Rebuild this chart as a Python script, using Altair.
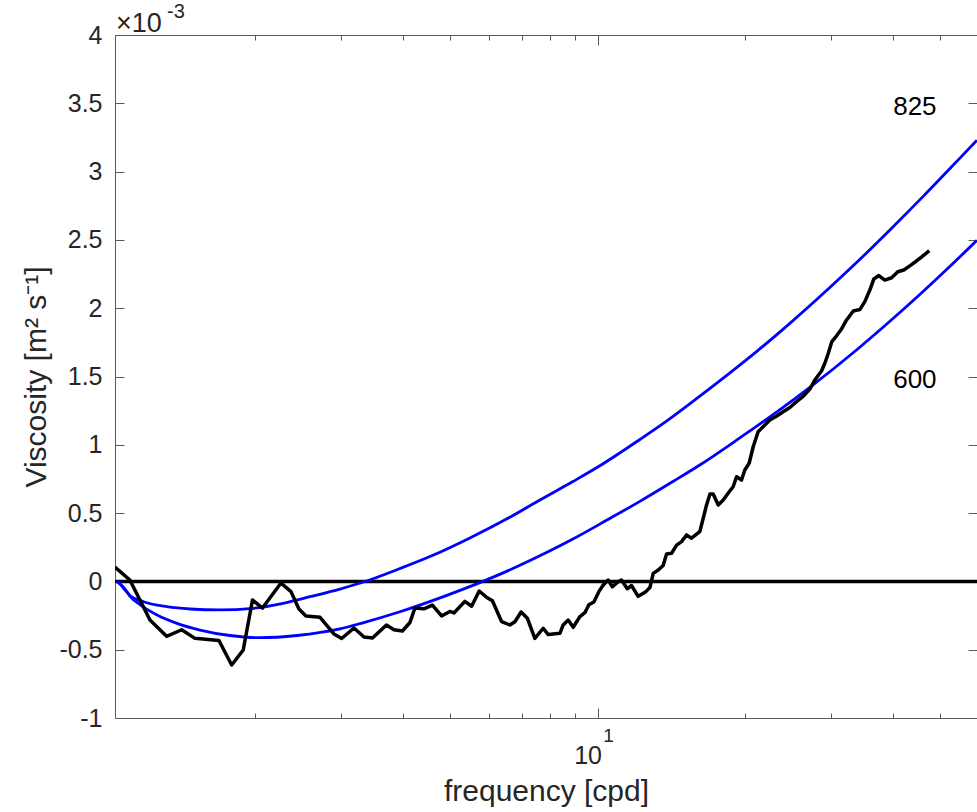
import altair as alt
import pandas as pd

# ---- data (viscosity in units of 1e-3 m^2 s^-1) ----
BLACK_F = [1.035, 1.110, 1.220, 1.319, 1.416, 1.507, 1.687, 1.791, 1.891, 1.975,
           2.070, 2.258, 2.367, 2.457, 2.539, 2.713, 2.896, 3.003, 3.183, 3.336,
           3.471, 3.707, 3.840, 3.996, 4.140, 4.238, 4.421, 4.601, 4.804, 4.995,
           5.090, 5.360, 5.532, 5.733, 5.944, 6.100, 6.371, 6.622, 6.780, 6.981,
           7.190, 7.447, 7.745, 7.929, 8.377, 8.507, 8.710, 8.917, 9.203, 9.421,
           9.599, 9.827, 10.06, 10.27, 10.51, 10.72, 11.02, 11.19, 11.50, 11.73,
           12.10, 12.55, 12.79, 12.99, 13.30, 13.61, 13.83, 14.16, 14.50, 14.84,
           15.19, 15.55, 16.17, 16.43, 16.69, 16.96, 17.22, 17.63, 18.05, 18.47,
           18.91, 19.22, 19.67, 19.98, 20.39, 20.78, 21.27, 21.95, 22.47, 23.22,
           23.92, 24.69, 25.47, 26.28, 27.12, 27.76, 28.65, 29.10, 29.58, 30.08,
           30.75, 31.48, 32.23, 33.27, 34.30, 35.12, 35.96, 36.64, 37.51, 38.58,
           39.83, 41.01, 42.18, 43.38, 44.63, 45.69, 46.67, 47.55]
BLACK_V = [0.104, 0.010, -0.283, -0.402, -0.354, -0.417, -0.433, -0.612, -0.502, -0.136,
           -0.195, -0.012, -0.075, -0.202, -0.253, -0.263, -0.385, -0.418, -0.341, -0.407,
           -0.414, -0.319, -0.354, -0.363, -0.301, -0.195, -0.201, -0.173, -0.253, -0.220,
           -0.231, -0.146, -0.182, -0.070, -0.118, -0.142, -0.295, -0.319, -0.295, -0.224,
           -0.270, -0.417, -0.343, -0.389, -0.380, -0.319, -0.283, -0.336, -0.258, -0.229,
           -0.171, -0.151, -0.075, -0.026, 0.010, -0.039, -0.002, 0.010, -0.054, -0.030,
           -0.109, -0.075, -0.045, 0.059, 0.083, 0.116, 0.201, 0.206, 0.266, 0.291,
           0.340, 0.316, 0.364, 0.462, 0.559, 0.640, 0.640, 0.559, 0.596, 0.645,
           0.693, 0.766, 0.742, 0.816, 0.865, 0.986, 1.096, 1.145, 1.182, 1.211,
           1.242, 1.273, 1.316, 1.354, 1.408, 1.474, 1.540, 1.597, 1.670, 1.756,
           1.798, 1.848, 1.914, 1.980, 1.990, 2.048, 2.133, 2.214, 2.239, 2.206,
           2.223, 2.267, 2.280, 2.310, 2.342, 2.371, 2.397, 2.422]

UPPER_F = [1.045, 1.060, 1.085, 1.110, 1.180, 1.321, 1.472, 1.695, 1.980, 2.279,
           2.587, 2.979, 3.351, 3.950, 4.612, 5.488, 6.532, 7.624, 8.905, 10.01,
           12.20, 13.85, 16.17, 18.88, 21.14, 24.69, 28.96, 33.82, 39.51, 46.36,
           54.12, 59.48]
UPPER_V = [0.0, -0.019, -0.063, -0.103, -0.147, -0.185, -0.202, -0.209, -0.197, -0.160,
           -0.112, -0.056, -0.001, 0.094, 0.191, 0.318, 0.458, 0.596, 0.731, 0.837,
           1.039, 1.175, 1.356, 1.543, 1.684, 1.889, 2.111, 2.336, 2.573, 2.824,
           3.075, 3.230]

LOWER_F = [1.045, 1.060, 1.085, 1.110, 1.180, 1.261, 1.385, 1.543, 1.777, 2.046,
           2.434, 2.979, 3.319, 3.950, 4.925, 5.834, 6.717, 7.733, 8.905, 10.45,
           12.20, 14.25, 16.17, 19.51, 21.14, 24.69, 27.12, 33.82, 39.51, 46.36,
           52.36, 59.48]
LOWER_V = [0.0, -0.019, -0.056, -0.107, -0.185, -0.246, -0.307, -0.356, -0.396, -0.412,
           -0.396, -0.348, -0.303, -0.222, -0.102, 0.000, 0.094, 0.198, 0.310, 0.449,
           0.586, 0.731, 0.852, 1.050, 1.137, 1.311, 1.421, 1.696, 1.904, 2.128,
           2.305, 2.497]

CURVE_LABELS = ["825", "600"]
CURVE_LABEL_F = [44.43, 44.43]
CURVE_LABEL_V = [3.414, 1.414]

ZERO_V = [0.0]

Y_TICKS = [-1, -0.5, 0, 0.5, 1, 1.5, 2, 2.5, 3, 3.5, 4]
X_MAJOR = [10]
X_MINOR = [2, 3, 4, 5, 6, 7, 8, 9, 20, 30, 40, 50]
X_DOMAIN = [1.035, 59.5]
Y_DOMAIN = [-1, 4]

# ---- styling ----
W, H = 862, 683
FONT = "Liberation Sans"
GRAY = "#5a5a5a"
TXT = "#262626"
TICK_FS = 25
TITLE_FS = 30

xs = alt.Scale(type="log", domain=X_DOMAIN, nice=False)
ys = alt.Scale(domain=Y_DOMAIN, nice=False, zero=False)


def inward_axis(orient, values, size):
    off = -H if orient in ("top", "bottom") else -W
    return alt.Axis(orient=orient, offset=off, values=values, tickSize=size,
                    tickColor=GRAY, tickWidth=1, labels=False, domain=False,
                    grid=False, title=None)


black_df = pd.DataFrame({"f": BLACK_F, "v": BLACK_V})
upper_df = pd.DataFrame({"f": UPPER_F, "v": UPPER_V})
lower_df = pd.DataFrame({"f": LOWER_F, "v": LOWER_V})
zero_df = pd.DataFrame({"v": ZERO_V})
lab_df = pd.DataFrame({"f": CURVE_LABEL_F, "v": CURVE_LABEL_V, "t": CURVE_LABELS})
one = pd.DataFrame({"a": [0]})

main_y_axis = alt.Axis(
    orient="left", values=Y_TICKS, ticks=False, tickSize=0, domain=False, grid=False,
    labelExpr="(datum.value < 0 ? '-' : '') + format(abs(datum.value), '~g')",
    labelFont=FONT, labelFontSize=TICK_FS, labelColor=TXT, labelPadding=13,
    labelBaseline="middle",
    title="Viscosity [m² s⁻¹]", titleFont=FONT, titleFontSize=TITLE_FS,
    titleFontWeight="normal", titleColor=TXT, titleAngle=270,
    titleX=-70, titleY=H / 2, titleAlign="center", titleBaseline="alphabetic",
)

main_x_axis = alt.Axis(
    orient="bottom", values=X_MAJOR, ticks=False, tickSize=0, domain=False, grid=False,
    labelExpr="'10'", labelFont=FONT, labelFontSize=TICK_FS, labelColor=TXT,
    labelPadding=45, labelBaseline="alphabetic", labelOffset=-10,
    title="frequency [cpd]", titleFont=FONT, titleFontSize=TITLE_FS,
    titleFontWeight="normal", titleColor=TXT,
    titleX=W / 2, titleY=82, titleAlign="center", titleBaseline="alphabetic",
)

zero_line = alt.Chart(zero_df).mark_rule(color="black", strokeWidth=3.5).encode(
    y=alt.Y("v:Q", scale=ys, axis=main_y_axis)
)

upper = alt.Chart(upper_df).mark_line(
    color="#0000ff", strokeWidth=2.8, interpolate="monotone", clip=True
).encode(
    x=alt.X("f:Q", scale=xs, axis=inward_axis("top", X_MAJOR, 10)),
    y=alt.Y("v:Q", scale=ys, axis=inward_axis("left", Y_TICKS, 9)),
)

lower = alt.Chart(lower_df).mark_line(
    color="#0000ff", strokeWidth=2.8, interpolate="monotone", clip=True
).encode(
    x=alt.X("f:Q", scale=xs, axis=inward_axis("top", X_MINOR, 5)),
    y=alt.Y("v:Q", scale=ys, axis=inward_axis("right", Y_TICKS, 9)),
)

black = alt.Chart(black_df).mark_line(color="black", strokeWidth=3.5, strokeJoin="round",
                                      clip=True).encode(
    x=alt.X("f:Q", scale=xs, axis=main_x_axis),
    y=alt.Y("v:Q", scale=ys, axis=None),
)

lab825 = alt.Chart(lab_df).transform_filter("datum.t == '825'").mark_text(
    font=FONT, fontSize=26, color="black", align="center", baseline="alphabetic"
).encode(
    x=alt.X("f:Q", scale=xs, axis=inward_axis("bottom", X_MAJOR, 10)),
    y=alt.Y("v:Q", scale=ys, axis=None),
    text="t:N",
)

lab600 = alt.Chart(lab_df).transform_filter("datum.t == '600'").mark_text(
    font=FONT, fontSize=26, color="black", align="center", baseline="alphabetic"
).encode(
    x=alt.X("f:Q", scale=xs, axis=inward_axis("bottom", X_MINOR, 5)),
    y=alt.Y("v:Q", scale=ys, axis=None),
    text="t:N",
)

sup_x = alt.Chart(one).mark_text(
    font=FONT, fontSize=19, color=TXT, align="center", baseline="alphabetic", dx=11
).encode(
    x=alt.X(datum=10, scale=xs, axis=None),
    y=alt.value(H + 23.7),
    text=alt.value("1"),
)

mult = alt.Chart(one).mark_text(
    font=FONT, fontSize=27, color=TXT, align="left", baseline="alphabetic"
).encode(x=alt.value(1), y=alt.value(-3.3), text=alt.value("×10"))

mult_exp = alt.Chart(one).mark_text(
    font=FONT, fontSize=20, color=TXT, align="left", baseline="alphabetic"
).encode(x=alt.value(52), y=alt.value(-16.7), text=alt.value("-3"))

chart = alt.layer(
    zero_line, upper, lower, black, lab825, lab600, sup_x, mult, mult_exp
).resolve_axis(
    x="independent", y="independent"
).properties(
    width=W, height=H,
    autosize=alt.AutoSizeParams(type="none"),
    padding={"left": 115, "top": 35, "right": 0, "bottom": 94},
    background="white",
).configure_view(
    stroke=GRAY, strokeWidth=1
)

chart.save("out.html", embed_options={"renderer": "svg", "actions": False})
